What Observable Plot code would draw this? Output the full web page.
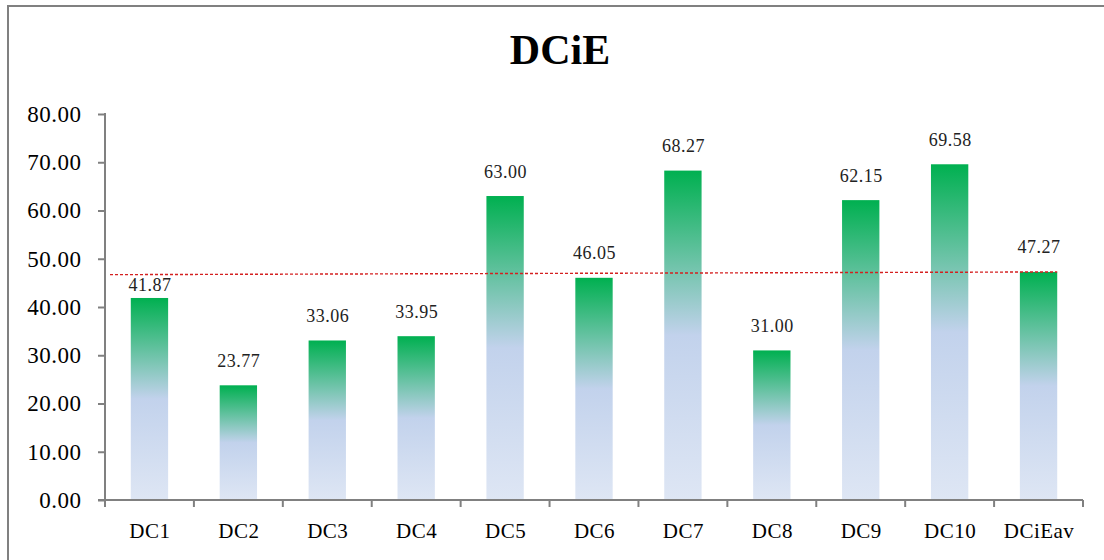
<!DOCTYPE html>
<html>
<head>
<meta charset="utf-8">
<script src="https://cdn.jsdelivr.net/npm/d3@7"></script>
<script src="https://cdn.jsdelivr.net/npm/@observablehq/plot@0.6"></script>
<style>
  html, body { margin: 0; padding: 0; background: #fff; }
  #wrap { position: relative; width: 1104px; height: 560px; overflow: hidden; font-family: "Liberation Serif", "DejaVu Serif", serif; }
  #frame { position: absolute; left: 7px; top: 5px; width: 1110px; height: 570px; border-top: 2px solid #808080; border-left: 2px solid #808080; }
  #title { position: absolute; top: 26px; left: 0; width: 1120px; text-align: center; font-size: 42px; font-weight: bold; color: #000; }
  #chart { position: absolute; left: 0; top: 0; }
  #chart svg text { letter-spacing: 0.5px; }
</style>
</head>
<body>
<div id="wrap">
  <div id="frame"></div>
  <div id="chart"></div>
  <div id="title">DCiE</div>
</div>
<script>
// Data centre infrastructure efficiency per site, plus the overall average
const categories = ["DC1", "DC2", "DC3", "DC4", "DC5", "DC6", "DC7", "DC8", "DC9", "DC10", "DCiEav"];
const dcieValues = [41.87, 23.77, 33.06, 33.95, 63.00, 46.05, 68.27, 31.00, 62.15, 69.58, 47.27];
const yTicks = [0, 10, 20, 30, 40, 50, 60, 70, 80];
// dotted reference line: level at the left axis and at the average bar
const refLineStart = 46.7;
const refLineEnd = 47.27;

const rows = categories.map((name, i) => ({name, value: dcieValues[i]}));
const axisGrey = "#808080";

// Gradient definition shared by every bar (green top fading to pale blue)
function gradientDefs() {
  const defs = d3.create("svg:defs");
  const g = defs.append("linearGradient")
    .attr("id", "barFill").attr("x1", 0).attr("y1", 0).attr("x2", 0).attr("y2", 1);
  [[0, "#00B050"], [0.5, "#C2D2EC"], [1, "#DEE6F4"]].forEach(([o, c]) =>
    g.append("stop").attr("offset", o).attr("stop-color", c));
  return defs.node();
}

// Axis lines with category-boundary ticks along the bottom
function axisLines(index, scales, values, dims) {
  const g = d3.create("svg:g").attr("stroke", axisGrey).attr("stroke-width", 2).attr("fill", "none");
  const left = dims.marginLeft;
  const right = dims.width - dims.marginRight;
  const y0 = scales.y(0);
  const yTop = scales.y(80);
  g.append("line").attr("x1", left).attr("x2", left).attr("y1", yTop - 1).attr("y2", y0);
  g.append("line").attr("x1", left - 7).attr("x2", right).attr("y1", y0).attr("y2", y0);
  const step = (right - left) / categories.length;
  for (let i = 0; i <= categories.length; i++) {
    const x = left + i * step;
    g.append("line").attr("x1", x).attr("x2", x).attr("y1", y0).attr("y2", y0 + 7);
  }
  return g.node();
}

// Dotted red average line, from the y axis to the right edge of the last bar
function refLine(index, scales, values, dims) {
  const step = (dims.width - dims.marginLeft - dims.marginRight) / categories.length;
  const bw = step * 0.42;
  const lastLeft = scales.x(categories[categories.length - 1]);
  return d3.create("svg:line")
    .attr("x1", dims.marginLeft + 5)
    .attr("x2", lastLeft + bw)
    .attr("y1", scales.y(refLineStart))
    .attr("y2", scales.y(refLineEnd))
    .attr("stroke", "#D42020")
    .attr("stroke-width", 1.4)
    .attr("stroke-dasharray", "3,2")
    .node();
}

const labelText = d => d.value.toFixed(2);

const plot = Plot.plot({
  width: 1104,
  height: 560,
  marginLeft: 105,
  marginRight: 21,
  marginTop: 114,
  marginBottom: 60,
  style: {fontFamily: "'Liberation Serif', serif", background: "transparent", color: "#000"},
  x: {domain: categories, paddingInner: 0.58, paddingOuter: 0.29, round: false, label: null},
  y: {domain: [0, 80], label: null},
  marks: [
    gradientDefs,
    Plot.barY(rows, {x: "name", y: "value", fill: "url(#barFill)"}),
    refLine,
    axisLines,
    Plot.axisY({ticks: yTicks, tickFormat: d => d.toFixed(2), tickSize: 7, tickPadding: 17,
      stroke: axisGrey, strokeWidth: 2, fill: "#000", fontSize: 23, label: null}),
    Plot.axisX({tickSize: 0, tickPadding: 23, fontSize: 21, fill: "#000", label: null}),
    // value labels; the first one sits lower, tucked under the dotted line
    Plot.text(rows, {filter: d => d.name !== "DC1", x: "name", y: "value", text: labelText,
      dy: -19, fontSize: 18, fill: "#222", lineAnchor: "bottom"}),
    Plot.text(rows, {filter: d => d.name === "DC1", x: "name", y: "value", text: labelText,
      dy: -7, fontSize: 18, fill: "#222", lineAnchor: "bottom"})
  ]
});
document.getElementById("chart").appendChild(plot);
</script>
</body>
</html>
